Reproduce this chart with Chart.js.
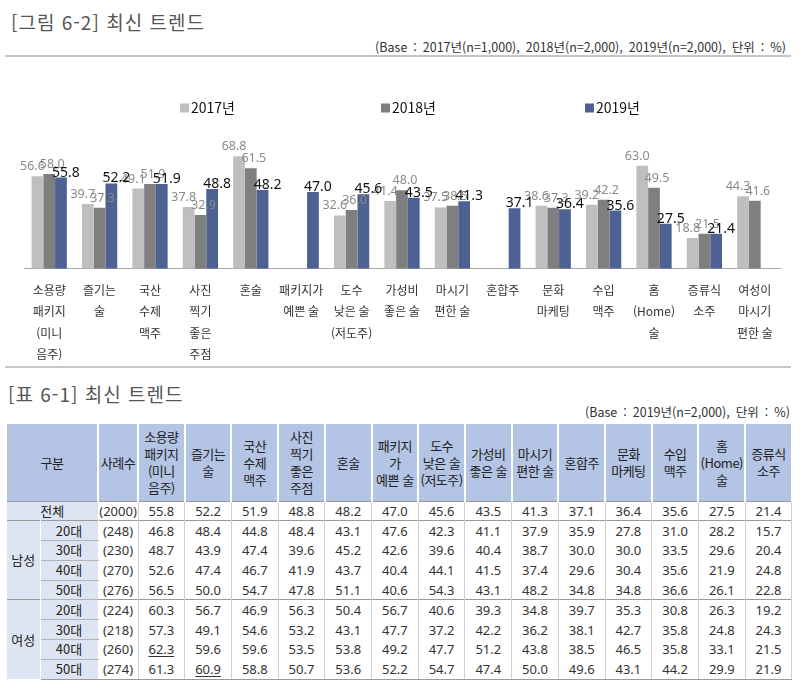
<!DOCTYPE html>
<html lang="ko">
<head>
<meta charset="UTF-8">
<title>최신 트렌드</title>
<script src="https://cdn.jsdelivr.net/npm/chart.js"></script>
<style>
  body { margin: 0; width: 800px; height: 682px; background: #fff; position: relative; overflow: hidden;
         font-family: "Noto Sans CJK KR", "Noto Sans", sans-serif; color: #333; }
  .t { position: absolute; white-space: nowrap; }
  #t1 { left: 11px; top: 12px; font-size: 19px; line-height: 20px; color: #555; letter-spacing: 1px; }
  #s1 { right: 14px; top: 40px; font-size: 12.5px; line-height: 14px; word-spacing: 2.5px; color: #333; }
  #t2 { left: 8px; top: 384px; font-size: 19px; line-height: 20px; color: #555; letter-spacing: 1px; }
  #s2 { right: 10px; top: 405px; font-size: 12.5px; line-height: 14px; word-spacing: 2.5px; color: #333; }
  .hr { position: absolute; left: 5px; width: 786px; height: 2px; background: #c6c6c6; }
  #c1 { position: absolute; left: 0; top: 60px; }
  #tb { position: absolute; left: 7px; top: 424px; width: 785px; border-collapse: collapse; table-layout: fixed;
        font-size: 13px; color: #333; }
  #tb th { background: #b4c4e4; border-left: 2px solid #fff; border-right: 2px solid #fff; font-weight: normal;
           padding: 0; line-height: 17px; color: #222; letter-spacing: -0.5px; }
  #tb th:first-child { border-left: 0; }
  #tb thead tr { height: 77px; }
  #tb tbody tr { height: 19.8px; }
  #tb td { padding: 0; text-align: center; border-left: 1px solid #d0d0d0; border-right: 1px solid #d0d0d0;
           font-family: "Noto Sans", sans-serif; line-height: 18px; }
  #tb td.st { background: #dde5f3; font-family: "Noto Sans CJK KR", sans-serif; color: #222; border-left-color: #fff; border-right-color: #fff; }
  #tb td.st:first-child { border-left: 0; }
  #tb td.age { border-bottom: 1px solid #b4b4b4; }
  #tb tr.g td { border-top: 1px solid #9a9a9a; }
  #tb tr:last-child td { border-bottom: 1px solid #9a9a9a; }
  #tb u { text-decoration-thickness: 1px; text-underline-offset: 2px; }
</style>
</head>
<body>
<div class="t" id="t1">[그림 6-2] 최신 트렌드</div>
<div class="t" id="s1">(Base : 2017년(n=1,000), 2018년(n=2,000), 2019년(n=2,000), 단위 : %)</div>
<div class="hr" style="top:55px"></div>
<canvas id="c1" width="800" height="316"></canvas>
<div class="hr" style="top:366px"></div>
<div class="t" id="t2">[표 6-1] 최신 트렌드</div>
<div class="t" id="s2">(Base : 2019년(n=2,000), 단위 : %)</div>
<table id="tb"></table>
<script>
// 그림 데이터
const categories = [
  ["소용량", "패키지", "(미니", "음주)"],
  ["즐기는", "술"],
  ["국산", "수제", "맥주"],
  ["사진", "찍기", "좋은", "주점"],
  "혼술",
  ["패키지가", "예쁜 술"],
  ["도수", "낮은 술", "(저도주)"],
  ["가성비", "좋은 술"],
  ["마시기", "편한 술"],
  "혼합주",
  ["문화", "마케팅"],
  ["수입", "맥주"],
  ["홈", "(Home)", "술"],
  ["증류식", "소주"],
  ["여성이", "마시기", "편한 술"]
]
const seriesNames = ["2017년", "2018년", "2019년"]
const v2017 = [56.6, 39.7, 49.1, 37.8, 68.8, null, 32.6, 41.4, 37.5, null, 38.6, 39.2, 63.0, 18.8, 44.3]
const v2018 = [58.0, 37.3, 51.9, 32.9, 61.5, null, 36.0, 48.0, 38.5, null, 37.3, 42.2, 49.5, 21.5, 41.6]
const v2019 = [55.8, 52.2, 51.9, 48.8, 48.2, 47.0, 45.6, 43.5, 41.3, 37.1, 36.4, 35.6, 27.5, 21.4, null]

// 표 데이터
const tableColumns = [
  "소용량<br>패키지<br>(미니<br>음주)", "즐기는<br>술", "국산<br>수제<br>맥주", "사진<br>찍기<br>좋은<br>주점",
  "혼술", "패키지<br>가<br>예쁜 술", "도수<br>낮은 술<br>(저도주)", "가성비<br>좋은 술", "마시기<br>편한 술",
  "혼합주", "문화<br>마케팅", "수입<br>맥주", "홈<br>(Home)<br>술", "증류식<br>소주"
]
const rowGroups = ["전체", "남성", "여성"]
const rowAges = ["", "20대", "30대", "40대", "50대", "20대", "30대", "40대", "50대"]
const rowCounts = [2000, 248, 230, 270, 276, 224, 218, 260, 274]
const rowValues = [
  [55.8, 52.2, 51.9, 48.8, 48.2, 47.0, 45.6, 43.5, 41.3, 37.1, 36.4, 35.6, 27.5, 21.4],
  [46.8, 48.4, 44.8, 48.4, 43.1, 47.6, 42.3, 41.1, 37.9, 35.9, 27.8, 31.0, 28.2, 15.7],
  [48.7, 43.9, 47.4, 39.6, 45.2, 42.6, 39.6, 40.4, 38.7, 30.0, 30.0, 33.5, 29.6, 20.4],
  [52.6, 47.4, 46.7, 41.9, 43.7, 40.4, 44.1, 41.5, 37.4, 29.6, 30.4, 35.6, 21.9, 24.8],
  [56.5, 50.0, 54.7, 47.8, 51.1, 40.6, 54.3, 43.1, 48.2, 34.8, 34.8, 36.6, 26.1, 22.8],
  [60.3, 56.7, 46.9, 56.3, 50.4, 56.7, 40.6, 39.3, 34.8, 39.7, 35.3, 30.8, 26.3, 19.2],
  [57.3, 49.1, 54.6, 53.2, 43.1, 47.7, 37.2, 42.2, 36.2, 38.1, 42.7, 35.8, 24.8, 24.3],
  [62.3, 59.6, 59.6, 53.5, 53.8, 49.2, 47.7, 51.2, 43.8, 38.5, 46.5, 35.8, 33.1, 21.5],
  [61.3, 60.9, 58.8, 50.7, 53.6, 52.2, 54.7, 47.4, 50.0, 49.6, 43.1, 44.2, 29.9, 21.9]
]
const underlined = ["7-0", "8-1"]

// 막대 위 값 표시
const valueLabels = {
  id: "valueLabels",
  afterDatasetsDraw(chart) {
    const c = chart.ctx
    const styles = [
      { dx: -5, dy: -6, font: '12.5px "Noto Sans"', color: "#8a8a8a" },
      { dx: 3, dy: -6, font: '12.5px "Noto Sans"', color: "#8a8a8a" },
      { dx: 5, dy: -1, font: '14px "Noto Sans"', color: "#111" }
    ]
    c.save()
    c.textAlign = "center"
    c.textBaseline = "alphabetic"
    chart.data.datasets.forEach((ds, i) => {
      const s = styles[i]
      chart.getDatasetMeta(i).data.forEach((bar, j) => {
        const v = ds.data[j]
        if (v == null) return
        c.font = s.font
        c.fillStyle = s.color
        c.fillText(v.toFixed(1), bar.x + s.dx, bar.y + s.dy)
      })
    })
    c.restore()
  }
}

// 범례 (넓은 간격)
const wideLegend = {
  id: "wideLegend",
  afterDraw(chart) {
    const c = chart.ctx
    const xs = [180, 381, 585]
    const y = 48
    c.save()
    c.font = '14px "Noto Sans CJK KR"'
    c.textBaseline = "middle"
    chart.data.datasets.forEach((ds, i) => {
      c.fillStyle = ds.backgroundColor
      c.fillRect(xs[i], y - 4.5, 9, 9)
      c.fillStyle = "#111"
      c.fillText(ds.label, xs[i] + 11, y)
    })
    c.restore()
  }
}

const ctx = document.getElementById("c1")
new Chart(ctx, {
  type: "bar",
  data: {
    labels: categories,
    datasets: [
      { label: seriesNames[0], data: v2017, backgroundColor: "#bfbfbf" },
      { label: seriesNames[1], data: v2018, backgroundColor: "#7f7f7f" },
      { label: seriesNames[2], data: v2019, backgroundColor: "#4d6192" }
    ]
  },
  options: {
    responsive: false,
    animation: false,
    layout: { padding: { left: 24, right: 20, top: 78, bottom: 0 } },
    datasets: { bar: { categoryPercentage: 0.7, barPercentage: 1.0 } },
    scales: {
      x: {
        grid: { display: false, drawTicks: false },
        border: { color: "#a8a8a8" },
        ticks: {
          autoSkip: false, maxRotation: 0, padding: 11, color: "#333",
          font: { family: "Noto Sans CJK KR", size: 12, lineHeight: "21.3px" }
        }
      },
      y: { display: false, min: 0, max: 80 }
    },
    plugins: { legend: { display: false }, tooltip: { enabled: false } }
  },
  plugins: [valueLabels, wideLegend]
})

// 표 만들기
const tb = document.getElementById("tb")
let html = '<colgroup><col style="width:33px"><col style="width:58px"><col style="width:40px">'
tableColumns.forEach(() => { html += '<col style="width:46.71px">' })
html += '</colgroup><thead><tr><th colspan="2">구분</th><th>사례수</th>'
tableColumns.forEach(h => { html += "<th>" + h + "</th>" })
html += "</tr></thead><tbody>"
rowValues.forEach((vals, r) => {
  const first = r === 0 || r === 1 || r === 5
  html += '<tr' + (first ? ' class="g"' : '') + '>'
  if (r === 0) html += '<td class="st" colspan="2">' + rowGroups[0] + '</td>'
  else {
    if (r === 1) html += '<td class="st" rowspan="4">' + rowGroups[1] + '</td>'
    if (r === 5) html += '<td class="st" rowspan="4">' + rowGroups[2] + '</td>'
    html += '<td class="st age">' + rowAges[r] + '</td>'
  }
  html += "<td>(" + rowCounts[r] + ")</td>"
  vals.forEach((v, k) => {
    const txt = v.toFixed(1)
    html += "<td>" + (underlined.includes(r + "-" + k) ? "<u>" + txt + "</u>" : txt) + "</td>"
  })
  html += "</tr>"
})
html += "</tbody>"
tb.innerHTML = html
</script>
</body>
</html>
